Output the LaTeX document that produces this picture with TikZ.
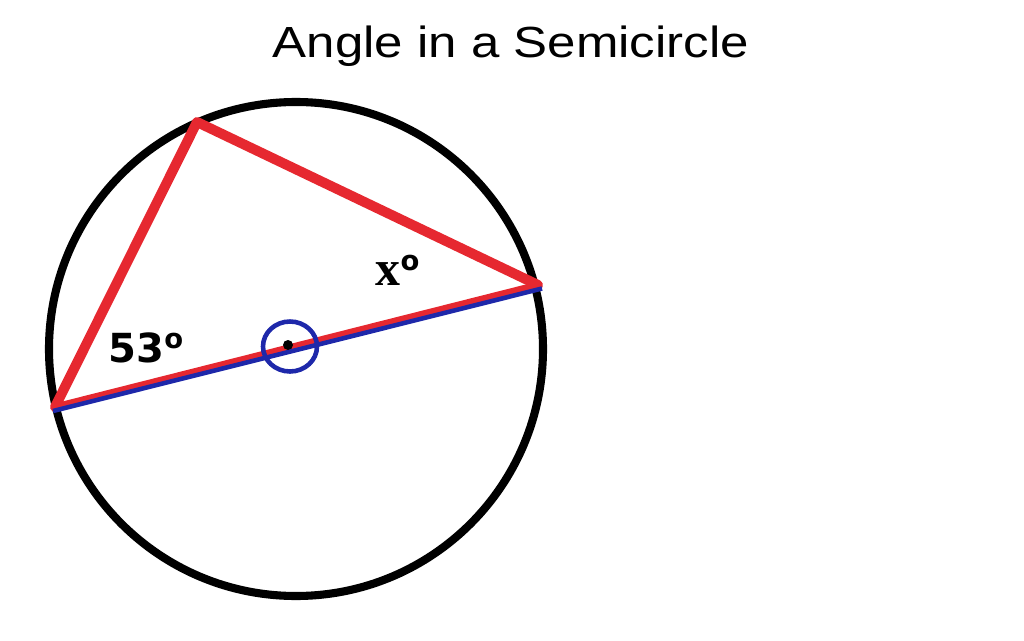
\documentclass[tikz,border=0pt]{standalone}
\usepackage{fontspec}
\setmainfont{Liberation Sans}
\newfontfamily\labelfont{DejaVu Sans}
\newfontfamily\varfont{Liberation Serif}
\usepackage{tikz}
\usetikzlibrary{shapes.geometric}
\definecolor{chordred}{RGB}{230,40,48}
\definecolor{penblue}{RGB}{30,40,170}

\begin{document}
\begin{tikzpicture}[
    chord/.style={chordred, line width=2.85pt, line cap=round, line join=round},
    pen/.style={penblue, line width=1.3pt}
  ]
    \useasboundingbox (0,0) rectangle (10.24,6.4);
    % title
    \node[anchor=base, xscale=1.17, font=\fontsize{12.4pt}{14pt}\selectfont] (title) at (5.11,5.82) {Angle in a Semicircle};
    % circle and points on it
    \coordinate (O) at (2.96,2.91);
    \draw[line width=2.3pt] (O) circle (2.47);
    \coordinate (T) at (1.97,5.18);
    \coordinate (R) at (5.38,3.55);
    \coordinate (L) at (0.55,2.33);
    % triangle
    \draw[chord] (L) -- (T) -- (R);
    \draw[chord, line width=2pt] (L) -- (R);
    \draw[pen] ([shift={(-0.02,-0.04)}]L) -- ([shift={(0.04,-0.035)}]R);
    % centre
    \node[pen, draw, ellipse, minimum width=0.54cm, minimum height=0.5cm, inner sep=0pt] (ring) at (2.90,2.935) {};
    \fill (2.88,2.95) circle (0.05);
    % angle labels
    \node[anchor=base west, inner sep=0pt, font=\labelfont\bfseries\fontsize{11.4pt}{12pt}\selectfont] (a53) at (1.08,2.78) {53\raisebox{0.14cm}{\fontsize{7.8pt}{8pt}\selectfont o}};
    \node[anchor=base west, inner sep=0pt, font=\varfont\bfseries\fontsize{14.2pt}{15pt}\selectfont] (ax) at (3.75,3.55) {x\raisebox{0.15cm}{\labelfont\fontsize{7.8pt}{8pt}\selectfont o}};
\end{tikzpicture}
\end{document}
